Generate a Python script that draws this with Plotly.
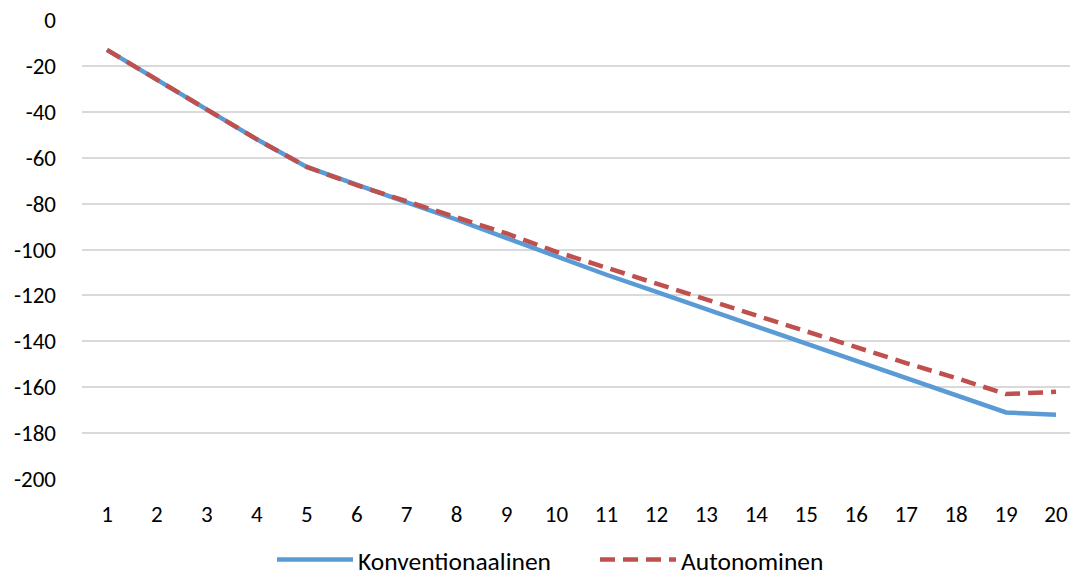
import plotly.graph_objects as go

years = list(range(1, 21))
konventionaalinen = [-13, -26, -39, -52, -64, -72, -79.5, -87, -95, -103.5,
                     -111, -118.5, -126, -133.5, -141, -148.5, -156, -163.5, -171, -172]
autonominen = [-13, -26, -39, -52, -64, -72, -79, -86, -93, -101,
               -108, -115, -122, -129, -136, -142.5, -149.5, -156, -163, -162]
y_ticks = list(range(-200, 1, 20))

font_family = "Carlito, Lato, 'Open Sans', sans-serif"

fig = go.Figure()
fig.add_trace(go.Scatter(
    x=years, y=konventionaalinen, mode="lines", name="Konventionaalinen",
    line=dict(color="#5B9BD5", width=4.5), legend="legend",
))
fig.add_trace(go.Scatter(
    x=years, y=autonominen, mode="lines", name="Autonominen",
    line=dict(color="#C0504D", width=4.5, dash="15px,8px"), legend="legend2",
))

# plot area spans x 82..1070 px, y 20..479 px
def px_x(px):
    return (px - 82) / 988

legend_y = (479 - 560) / 459
legend_common = dict(orientation="h", yanchor="middle", y=legend_y, xanchor="left",
                     itemwidth=76, font=dict(size=25.5, family=font_family),
                     bgcolor="rgba(0,0,0,0)")

fig.update_layout(
    width=1070, height=581,
    margin=dict(l=82, r=0, t=20, b=102, autoexpand=False),
    paper_bgcolor="white", plot_bgcolor="white",
    font=dict(family=font_family, size=23, color="#000000"),
    showlegend=True,
    legend=dict(x=px_x(272), **legend_common),
    legend2=dict(x=px_x(595), **legend_common),
    xaxis=dict(range=[0.5, 20.28], tickmode="array", tickvals=years,
               ticktext=[str(v) for v in years], showgrid=False, zeroline=False,
               showline=False, ticks="", ticklabelstandoff=19, automargin=False),
    yaxis=dict(range=[-200, 0], tickmode="array", tickvals=y_ticks,
               ticktext=[str(v) for v in y_ticks], showgrid=True,
               gridcolor="#D9D9D9", gridwidth=1.5, zeroline=False,
               showline=False, ticks="", ticklabelstandoff=25, automargin=False),
)

fig.write_html("out.html")
